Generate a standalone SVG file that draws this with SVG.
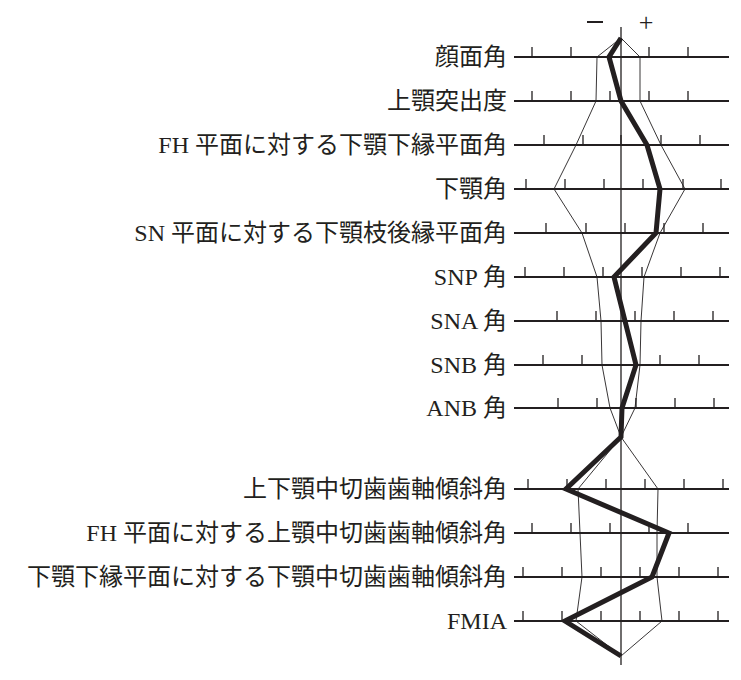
<svg xmlns="http://www.w3.org/2000/svg" width="741" height="680" viewBox="0 0 741 680">
<style>
.l{font-family:"Liberation Serif","Noto Sans CJK JP",serif;font-size:24px;fill:#231f20;text-anchor:end}
.ax{stroke:#231f20;stroke-width:2}
.tk{stroke:#231f20;stroke-width:1.3}
.env{fill:none;stroke:#231f20;stroke-width:0.9}
.pl{font-family:"Liberation Serif",serif;font-size:26px;fill:#231f20;text-anchor:middle}
</style>
<rect width="741" height="680" fill="#fff"/>
<g id="signs"><line x1="587" y1="22" x2="603" y2="22" stroke="#231f20" stroke-width="2"/><text class="pl" x="646" y="31">+</text></g>
<g id="axes">
<line x1="621" y1="27" x2="621" y2="665" class="tk"/>
<g class="ax"><line x1="514" y1="57" x2="729" y2="57"/><line x1="514" y1="101" x2="729" y2="101"/><line x1="514" y1="145" x2="729" y2="145"/><line x1="514" y1="189" x2="729" y2="189"/><line x1="514" y1="233" x2="729" y2="233"/><line x1="514" y1="277" x2="729" y2="277"/><line x1="514" y1="321" x2="729" y2="321"/><line x1="514" y1="365" x2="729" y2="365"/><line x1="514" y1="408" x2="729" y2="408"/><line x1="514" y1="489" x2="729" y2="489"/><line x1="514" y1="533" x2="729" y2="533"/><line x1="514" y1="577" x2="729" y2="577"/><line x1="514" y1="621" x2="729" y2="621"/></g>
<path class="tk" d="M532 57v-10M571 57v-10M649 57v-10M688 57v-10
M532 101v-10M571 101v-10M610 101v-10M649 101v-10M688 101v-10
M544 145v-10M583 145v-10M621 145v-10M661 145v-10M700 145v-10
M526 189v-10M565 189v-10M604 189v-10M643 189v-10M683 189v-10M721 189v-10
M546 233v-10M586 233v-10M625 233v-10M664 233v-10M703 233v-10
M525 277v-10M564 277v-10M603 277v-10M642 277v-10M681 277v-10M720 277v-10
M557 321v-10M596 321v-10M635 321v-10M674 321v-10M713 321v-10
M543 365v-10M582 365v-10M660 365v-10M699 365v-10
M558 408v-10M597 408v-10M636 408v-10M675 408v-10M714 408v-10
M528 489v-10M567 489v-10M606 489v-10M645 489v-10M684 489v-10M723 489v-10
M532 533v-10M571 533v-10M610 533v-10M649 533v-10M688 533v-10
M523 577v-10M562 577v-10M601 577v-10M640 577v-10M679 577v-10M718 577v-10
M523 621v-10M562 621v-10M601 621v-10M640 621v-10M679 621v-10M718 621v-10"/>
</g>
<g id="envelope">
<polyline class="env" points="621,38 597,57 596,101 576,145 554,189 582,233 597,277 601,321 602,365 610,408 621,437 578,489 580,533 582,577 576,621 621,656"/>
<polyline class="env" points="621,38 640,57 640,101 661,145 685,189 660,233 644,277 641,321 640,365 635,408 621,437 658,489 657,533 657,577 662,621 621,656"/>
</g>
<g id="profile"><polyline fill="none" stroke="#231f20" stroke-width="5" points="621,38 609,57 621,101 647,145 660,189 656,233 614,277 625,321 636,365 622,408 621,437 566,489 669,533 652,577 565,621 621,656"/></g>
<g id="labels">
<text class="l" x="507" y="65">顔面角</text>
<text class="l" x="507" y="109">上顎突出度</text>
<text class="l" x="507" y="153">FH 平面に対する下顎下縁平面角</text>
<text class="l" x="507" y="197">下顎角</text>
<text class="l" x="507" y="241">SN 平面に対する下顎枝後縁平面角</text>
<text class="l" x="507" y="285">SNP 角</text>
<text class="l" x="507" y="329">SNA 角</text>
<text class="l" x="507" y="373">SNB 角</text>
<text class="l" x="507" y="416">ANB 角</text>
<text class="l" x="507" y="497">上下顎中切歯歯軸傾斜角</text>
<text class="l" x="507" y="541">FH 平面に対する上顎中切歯歯軸傾斜角</text>
<text class="l" x="507" y="585">下顎下縁平面に対する下顎中切歯歯軸傾斜角</text>
<text class="l" x="507" y="629">FMIA</text>
</g>
</svg>
